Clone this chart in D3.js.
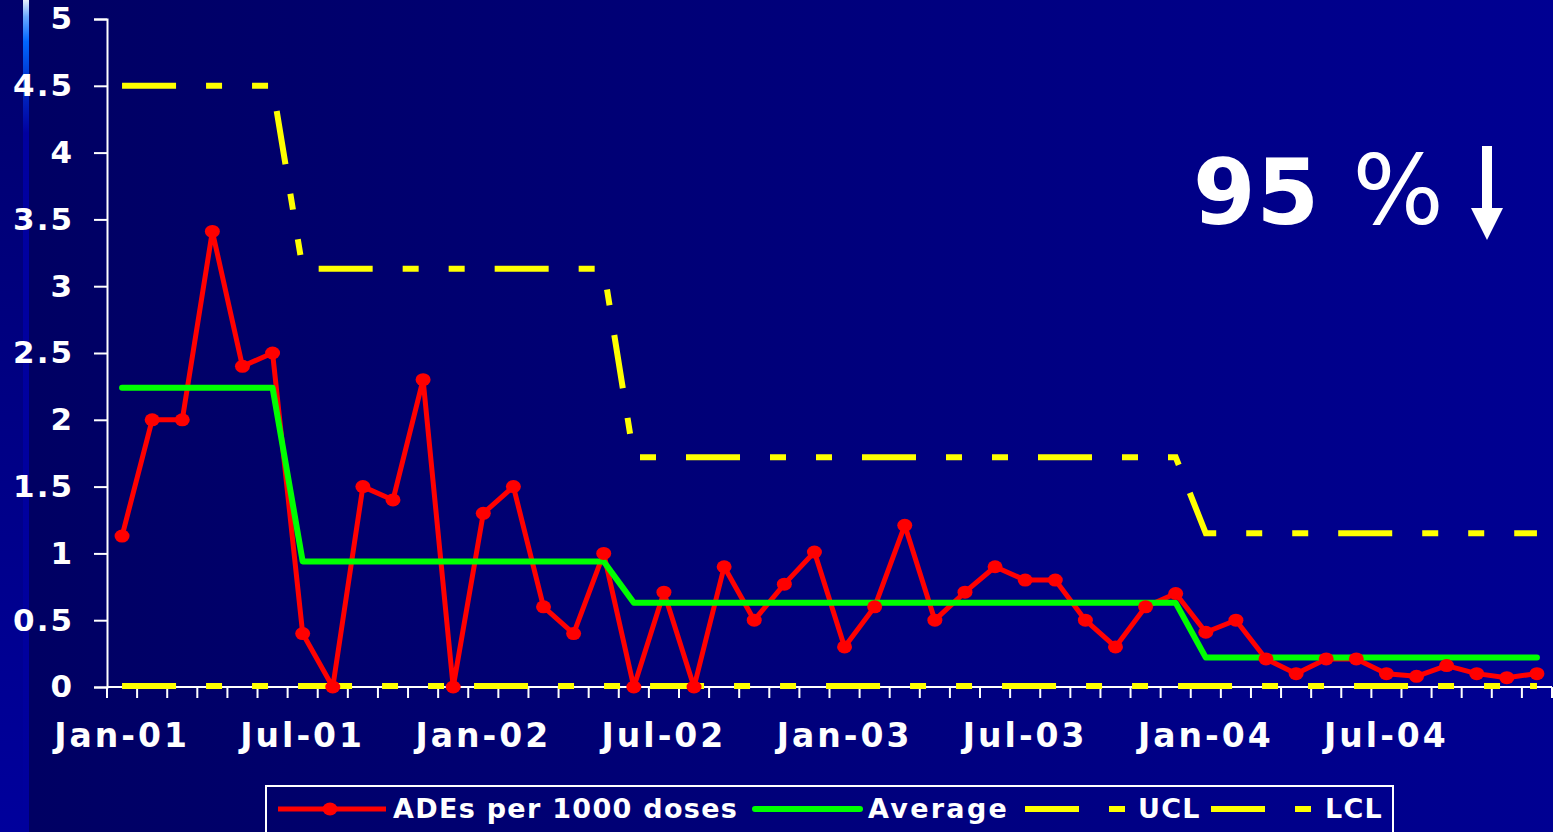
<!DOCTYPE html>
<html>
<head>
<meta charset="utf-8">
<script src="https://cdn.jsdelivr.net/npm/d3@7"></script>
<style>
  html, body { margin: 0; padding: 0; background: #000070; overflow: hidden; }
  svg { display: block; }
  text { font-family: "DejaVu Sans", Verdana, sans-serif; font-weight: bold; fill: #ffffff; }
</style>
</head>
<body>
<svg id="chart" width="1553" height="832"></svg>
<script>
// ---------- data ----------
const monthNames = ["Jan","Feb","Mar","Apr","May","Jun","Jul","Aug","Sep","Oct","Nov","Dec"];
const years = ["01","02","03","04"];
const months = years.flatMap(y => monthNames.map(m => m + "-" + y));

const ades = [1.13, 2.0, 2.0, 3.41, 2.4, 2.5, 0.4, 0.0, 1.5, 1.4, 2.3, 0.0,
              1.3, 1.5, 0.6, 0.4, 1.0, 0.0, 0.71, 0.0, 0.9, 0.5, 0.77, 1.01,
              0.3, 0.6, 1.21, 0.5, 0.71, 0.9, 0.8, 0.8, 0.5, 0.3, 0.6, 0.7,
              0.41, 0.5, 0.21, 0.1, 0.21, 0.21, 0.1, 0.08, 0.16, 0.1, 0.07, 0.1];
const average = [2.24, 2.24, 2.24, 2.24, 2.24, 2.24,
                 0.94, 0.94, 0.94, 0.94, 0.94, 0.94, 0.94, 0.94, 0.94, 0.94, 0.94,
                 0.63, 0.63, 0.63, 0.63, 0.63, 0.63, 0.63, 0.63, 0.63, 0.63, 0.63, 0.63, 0.63, 0.63, 0.63, 0.63, 0.63, 0.63, 0.63,
                 0.22, 0.22, 0.22, 0.22, 0.22, 0.22, 0.22, 0.22, 0.22, 0.22, 0.22, 0.22];
const ucl = [4.5, 4.5, 4.5, 4.5, 4.5, 4.5,
             3.13, 3.13, 3.13, 3.13, 3.13, 3.13, 3.13, 3.13, 3.13, 3.13, 3.13,
             1.72, 1.72, 1.72, 1.72, 1.72, 1.72, 1.72, 1.72, 1.72, 1.72, 1.72, 1.72, 1.72, 1.72, 1.72, 1.72, 1.72, 1.72, 1.72,
             1.15, 1.15, 1.15, 1.15, 1.15, 1.15, 1.15, 1.15, 1.15, 1.15, 1.15, 1.15];
const lcl = months.map(() => 0);
const xTickLabels = ["Jan-01","Jul-01","Jan-02","Jul-02","Jan-03","Jul-03","Jan-04","Jul-04"];
const yTicks = [0, 0.5, 1, 1.5, 2, 2.5, 3, 3.5, 4, 4.5, 5];
const seriesNames = ["ADEs per 1000 doses", "Average", "UCL", "LCL"];
const annotation = "95 %";

// ---------- setup ----------
const W = 1553, H = 832;
const svg = d3.select("#chart");
const defs = svg.append("defs");

const bgGrad = defs.append("linearGradient").attr("id", "bg").attr("x1", "0").attr("x2", "1").attr("y1", "0").attr("y2", "0");
bgGrad.append("stop").attr("offset", "0").attr("stop-color", "#000062");
bgGrad.append("stop").attr("offset", "1").attr("stop-color", "#000092");

const stripGrad = defs.append("linearGradient").attr("id", "strip").attr("x1", "0").attr("x2", "0").attr("y1", "0").attr("y2", "1");
stripGrad.append("stop").attr("offset", "0").attr("stop-color", "#00006c");
stripGrad.append("stop").attr("offset", "1").attr("stop-color", "#00009c");

const lineGrad = defs.append("linearGradient").attr("id", "edge").attr("x1", "0").attr("x2", "0").attr("y1", "0").attr("y2", "1");
[["0", "#e8f0ff"], ["0.02", "#6aa8ff"], ["0.05", "#0066ff"], ["0.1", "#0030c8"], ["0.16", "#0000a0"], ["1", "#00009c"]]
  .forEach(([o, c]) => lineGrad.append("stop").attr("offset", o).attr("stop-color", c));

svg.append("rect").attr("x", 0).attr("y", 0).attr("width", W).attr("height", H).attr("fill", "url(#bg)");
svg.append("rect").attr("x", 0).attr("y", 0).attr("width", 23).attr("height", H).attr("fill", "url(#strip)");
svg.append("rect").attr("x", 23).attr("y", 0).attr("width", 6).attr("height", H).attr("fill", "url(#edge)");

const x = d3.scaleBand().domain(months).range([107, 1552]).padding(0);
const y = d3.scaleLinear().domain([0, 5]).range([687, 19]);
const cx = m => x(m) + x.bandwidth() / 2;

// ---------- y axis ----------
const yAxis = svg.append("g").attr("transform", "translate(107,0)")
  .call(d3.axisLeft(y).tickValues(yTicks).tickSize(13).tickPadding(22).tickFormat(d => String(d)));
yAxis.select(".domain").attr("stroke", "#fff").attr("stroke-width", 2);
yAxis.selectAll(".tick line").attr("stroke", "#fff").attr("stroke-width", 2);
yAxis.selectAll(".tick text").attr("font-size", 31).attr("font-family", "DejaVu Sans").attr("font-weight", "bold")
  .attr("fill", "#fff").style("letter-spacing", "2px").attr("dx", "2");

// ---------- x axis ----------
const xAxisG = svg.append("g").attr("transform", "translate(0,687)");
xAxisG.append("line").attr("x1", 107).attr("x2", 1552).attr("y1", 0).attr("y2", 0).attr("stroke", "#fff").attr("stroke-width", 2);
const tickPos = months.map(m => x(m)).concat([x.range()[1]]);
xAxisG.selectAll("line.mtick").data(tickPos).join("line").attr("class", "mtick")
  .attr("x1", d => d).attr("x2", d => d).attr("y1", 0).attr("y2", 11)
  .attr("stroke", "#fff").attr("stroke-width", 2);
xAxisG.selectAll("text.xl").data(xTickLabels).join("text").attr("class", "xl")
  .attr("x", d => cx(d)).attr("y", 60).attr("text-anchor", "middle")
  .attr("font-size", 33).style("letter-spacing", "3px").text(d => d);

// ---------- series ----------
const line = d3.line().x((d, i) => cx(months[i])).y(d => y(d));
const dash = "54,30,16,30,16,30";

svg.append("path").datum(ades).attr("d", line).attr("fill", "none")
  .attr("stroke", "#ff0000").attr("stroke-width", 5).attr("stroke-linejoin", "round");
svg.append("path").datum(average).attr("d", line).attr("fill", "none")
  .attr("stroke", "#00ff00").attr("stroke-width", 6).attr("stroke-linecap", "round").attr("stroke-linejoin", "round");
svg.append("path").datum(ucl).attr("d", line).attr("fill", "none")
  .attr("stroke", "#ffff00").attr("stroke-width", 6).attr("stroke-dasharray", dash);
svg.append("path").datum(lcl).attr("d", line).attr("fill", "none")
  .attr("stroke", "#ffff00").attr("stroke-width", 6).attr("stroke-dasharray", dash).attr("transform", "translate(0,-1)");
svg.selectAll("ellipse.pt").data(ades).join("ellipse").attr("class", "pt")
  .attr("cx", (d, i) => cx(months[i])).attr("cy", d => y(d)).attr("rx", 7.5).attr("ry", 6.5).attr("fill", "#ff0000");

// ---------- annotation ----------
const ann = svg.append("text").attr("x", 1193).attr("y", 224).attr("font-size", 90).style("letter-spacing", "1px");
ann.append("tspan").text(annotation.slice(0, 3));
ann.append("tspan").attr("font-weight", "normal").attr("font-size", 96).text(annotation.slice(3));
svg.append("rect").attr("x", 1482).attr("y", 146).attr("width", 10).attr("height", 66).attr("fill", "#fff");
svg.append("path").attr("d", d3.line()([[1471, 208], [1503, 208], [1487, 240]])).attr("fill", "#fff");

// ---------- legend ----------
const lg = svg.append("g");
lg.append("rect").attr("x", 266).attr("y", 786).attr("width", 1127).attr("height", 70)
  .attr("fill", "none").attr("stroke", "#fff").attr("stroke-width", 2);
const ly = 809, lty = 818;
lg.append("line").attr("x1", 278).attr("x2", 386).attr("y1", ly).attr("y2", ly).attr("stroke", "#ff0000").attr("stroke-width", 5);
lg.append("ellipse").attr("cx", 330).attr("cy", ly).attr("rx", 7.5).attr("ry", 6.5).attr("fill", "#ff0000");
lg.append("text").attr("x", 393).attr("y", lty).attr("font-size", 27).style("letter-spacing", "1.3px").text(seriesNames[0]);
lg.append("line").attr("x1", 755).attr("x2", 860).attr("y1", ly).attr("y2", ly).attr("stroke", "#00ff00").attr("stroke-width", 6).attr("stroke-linecap", "round");
lg.append("text").attr("x", 868).attr("y", lty).attr("font-size", 27).style("letter-spacing", "2.3px").text(seriesNames[1]);
lg.append("line").attr("x1", 1025).attr("x2", 1125).attr("y1", ly).attr("y2", ly).attr("stroke", "#ffff00").attr("stroke-width", 6).attr("stroke-dasharray", dash);
lg.append("text").attr("x", 1138).attr("y", lty).attr("font-size", 27).style("letter-spacing", "1.3px").text(seriesNames[2]);
lg.append("line").attr("x1", 1211).attr("x2", 1311).attr("y1", ly).attr("y2", ly).attr("stroke", "#ffff00").attr("stroke-width", 6).attr("stroke-dasharray", dash);
lg.append("text").attr("x", 1325).attr("y", lty).attr("font-size", 27).style("letter-spacing", "1.3px").text(seriesNames[3]);
</script>
</body>
</html>
